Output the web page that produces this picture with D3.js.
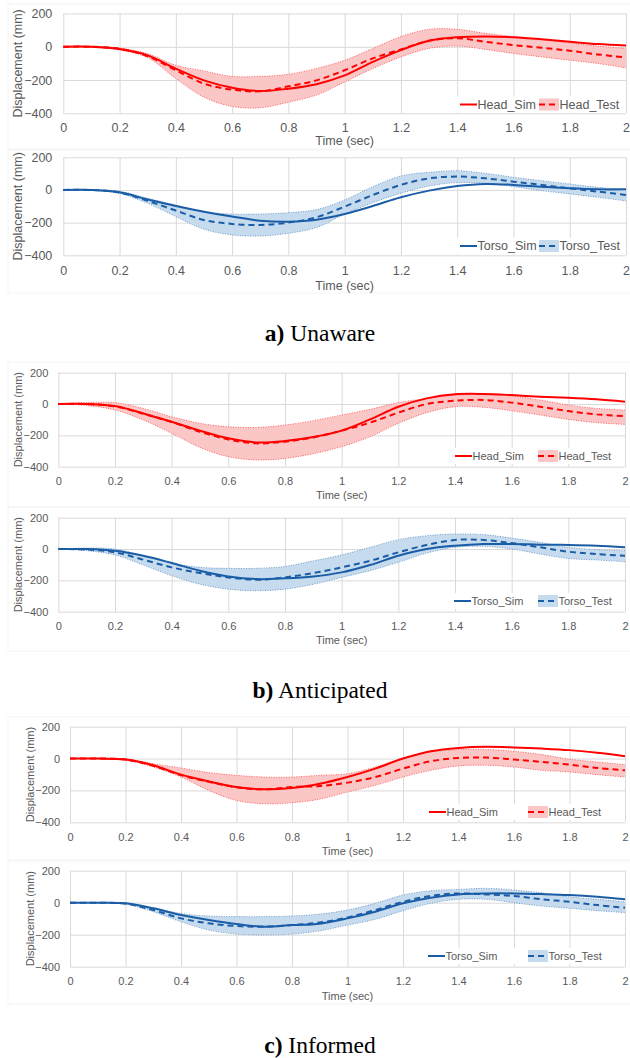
<!DOCTYPE html>
<html>
<head>
<meta charset="utf-8">
<script src="https://cdn.jsdelivr.net/npm/d3@7"></script>
<style>
  html, body { margin: 0; padding: 0; background: #fff; }
  svg { display: block; }
</style>
</head>
<body>
<script>
// Time samples (s)
const time = [0, 0.1, 0.2, 0.3, 0.4, 0.5, 0.6, 0.7, 0.8, 0.9, 1.0,
              1.1, 1.2, 1.3, 1.4, 1.5, 1.6, 1.7, 1.8, 1.9, 2.0];

const xTicks = [0, 0.2, 0.4, 0.6, 0.8, 1, 1.2, 1.4, 1.6, 1.8, 2];
const yTicks = [-400, -200, 0, 200];
const captions = [
  { bold: "a)", rest: " Unaware" },
  { bold: "b)", rest: " Anticipated" },
  { bold: "c)", rest: " Informed" }
];

// Unaware
const unawareHeadSim   = [0, 0, -14, -52, -131, -202, -246, -266, -252, -225, -172, -91, -20, 36, 57, 62, 57, 45, 30, 16, 8];
const unawareHeadTest  = [0, 0, -12, -57, -141, -222, -258, -268, -238, -202, -141, -70, -16, 36, 51, 30, 10, -6, -24, -46, -64];
const unawareHeadUpper = [0, 3, -8, -42, -111, -145, -178, -178, -165, -130, -81, -10, 61, 105, 105, 81, 61, 45, 24, 4, -10];
const unawareHeadLower = [0, -3, -20, -66, -191, -303, -359, -367, -333, -290, -212, -131, -61, -10, 4, -16, -40, -61, -81, -101, -127];

const unawareTorsoSim   = [0, 0, -14, -58, -98, -133, -163, -188, -194, -182, -147, -98, -45, -4, 24, 37, 31, 20, 10, 4, 4];
const unawareTorsoTest  = [0, 0, -16, -67, -126, -184, -208, -214, -200, -167, -102, -31, 31, 71, 82, 71, 51, 31, 10, -10, -31];
const unawareTorsoUpper = [0, 2, -8, -51, -92, -133, -147, -147, -139, -120, -61, 20, 86, 108, 118, 102, 78, 57, 37, 16, 4];
const unawareTorsoLower = [0, -2, -22, -82, -163, -241, -275, -282, -265, -230, -147, -78, -20, 24, 45, 41, 20, -4, -24, -45, -67];

// Anticipated
const anticipatedHeadSim   = [0, 0, -13, -60, -113, -170, -219, -245, -236, -211, -170, -98, -17, 36, 62, 64, 57, 47, 40, 30, 15];
const anticipatedHeadTest  = [0, 0, -15, -62, -115, -177, -226, -251, -240, -213, -170, -119, -55, 0, 21, 26, 9, -17, -45, -66, -77];
const anticipatedHeadUpper = [0, 9, 9, -28, -81, -123, -145, -149, -134, -106, -70, -34, 9, 36, 57, 62, 51, 26, -6, -28, -38];
const anticipatedHeadLower = [0, -9, -38, -102, -187, -277, -336, -357, -347, -317, -272, -209, -123, -55, -17, -21, -43, -70, -98, -119, -130];

const anticipatedTorsoSim   = [0, 0, -11, -43, -89, -138, -175, -192, -187, -175, -149, -102, -43, 0, 21, 32, 32, 28, 26, 21, 11];
const anticipatedTorsoTest  = [0, -3, -21, -68, -117, -153, -181, -196, -181, -153, -117, -75, -21, 26, 58, 58, 38, 11, -17, -32, -43];
const anticipatedTorsoUpper = [0, 6, 0, -43, -89, -117, -123, -123, -111, -75, -38, 11, 60, 85, 96, 92, 70, 43, 11, -4, -11];
const anticipatedTorsoLower = [0, -11, -38, -102, -170, -224, -256, -266, -256, -225, -181, -138, -85, -26, 11, 17, 0, -32, -60, -70, -81];

// Informed
const informedHeadSim   = [0, 0, -6, -42, -101, -143, -179, -193, -185, -158, -116, -63, 0, 46, 67, 74, 70, 63, 53, 36, 15];
const informedHeadTest  = [0, 0, -6, -45, -104, -146, -180, -193, -179, -172, -151, -116, -63, -17, 4, 6, -6, -21, -38, -59, -74];
const informedHeadUpper = [0, 2, -2, -32, -59, -88, -105, -116, -116, -105, -95, -53, 4, 42, 57, 57, 46, 25, -4, -21, -38];
const informedHeadLower = [0, -2, -10, -53, -116, -200, -263, -284, -277, -255, -210, -168, -116, -74, -46, -42, -53, -74, -84, -101, -116];

const informedTorsoSim   = [0, 0, -4, -35, -77, -108, -133, -150, -140, -131, -98, -56, -4, 31, 52, 58, 58, 54, 48, 37, 21];
const informedTorsoTest  = [0, 0, -6, -46, -98, -129, -146, -150, -140, -124, -92, -46, 6, 42, 58, 52, 42, 21, 6, -15, -31];
const informedTorsoUpper = [0, 2, -2, -31, -67, -83, -87, -87, -83, -71, -46, -4, 48, 75, 83, 90, 79, 62, 37, 21, 6];
const informedTorsoLower = [0, -2, -10, -56, -119, -171, -196, -202, -196, -176, -140, -104, -50, -4, 21, 21, 0, -21, -35, -50, -62];

const RED = "#ff0000", RED_FILL = "#fbc6c6";
const BLUE = "#1a5da6", BLUE_FILL = "#c6dbee";

// Panel layout (pixel geometry of each plot)
const panels = [
  { sim: unawareHeadSim, test: unawareHeadTest, up: unawareHeadUpper, lo: unawareHeadLower,
    name: "Head", color: RED, fill: RED_FILL,
    x0: 63.3, x1: 626, yT: 13.5, yB: 113.3, fs: 12.5, titleX: 18, tickGap: 11,
    xLabY: 128, timeY: 141, legY: 104.5, leg1: 460, leg2: 539, frame: [8, 4, 640, 149] },
  { sim: unawareTorsoSim, test: unawareTorsoTest, up: unawareTorsoUpper, lo: unawareTorsoLower,
    name: "Torso", color: BLUE, fill: BLUE_FILL,
    x0: 63.3, x1: 626, yT: 157.3, yB: 255.3, fs: 12.5, titleX: 18, tickGap: 11,
    xLabY: 271, timeY: 286, legY: 246, leg1: 460, leg2: 539, frame: [8, 150, 640, 293] },
  { sim: anticipatedHeadSim, test: anticipatedHeadTest, up: anticipatedHeadUpper, lo: anticipatedHeadLower,
    name: "Head", color: RED, fill: RED_FILL,
    x0: 58.3, x1: 625, yT: 372.7, yB: 466.7, fs: 11, titleX: 18, tickGap: 10,
    xLabY: 481, timeY: 495, legY: 456, leg1: 455, leg2: 538, frame: [8, 362, 640, 507] },
  { sim: anticipatedTorsoSim, test: anticipatedTorsoTest, up: anticipatedTorsoUpper, lo: anticipatedTorsoLower,
    name: "Torso", color: BLUE, fill: BLUE_FILL,
    x0: 58.3, x1: 625, yT: 517.7, yB: 611.7, fs: 11, titleX: 18, tickGap: 10,
    xLabY: 626, timeY: 640, legY: 601, leg1: 454, leg2: 538, frame: [8, 507, 640, 651] },
  { sim: informedHeadSim, test: informedHeadTest, up: informedHeadUpper, lo: informedHeadLower,
    name: "Head", color: RED, fill: RED_FILL,
    x0: 70, x1: 625, yT: 726.7, yB: 822.3, fs: 11, titleX: 30, tickGap: 10,
    xLabY: 837, timeY: 851, legY: 812, leg1: 429, leg2: 528, frame: [8, 717, 640, 860] },
  { sim: informedTorsoSim, test: informedTorsoTest, up: informedTorsoUpper, lo: informedTorsoLower,
    name: "Torso", color: BLUE, fill: BLUE_FILL,
    x0: 70, x1: 625, yT: 870.7, yB: 966.7, fs: 11, titleX: 30, tickGap: 10,
    xLabY: 981, timeY: 996, legY: 956, leg1: 428, leg2: 528, frame: [8, 861, 640, 1004] }
];

const captionY = [333, 690, 1045];

const W = 630, H = 1058;
const svg = d3.select("body").append("svg").attr("width", W).attr("height", H)
  .style("font-family", "Liberation Sans, Arial, sans-serif");

const TXT = "#595959", GRID = "#d9d9d9";

panels.forEach(p => {
  const g = svg.append("g");
  const x = d3.scaleLinear().domain([0, 2]).range([p.x0, p.x1]);
  const y = d3.scaleLinear().domain([-400, 200]).range([p.yB, p.yT]);

  // chart frame
  g.append("rect")
    .attr("x", p.frame[0]).attr("y", p.frame[1])
    .attr("width", p.frame[2] - p.frame[0]).attr("height", p.frame[3] - p.frame[1])
    .attr("fill", "none").attr("stroke", "#f4f4f4").attr("stroke-width", 1);

  // gridlines
  g.append("g").call(d3.axisLeft(y).tickValues(yTicks).tickSize(-(p.x1 - p.x0)).tickFormat(""))
    .attr("transform", `translate(${p.x0},0)`)
    .call(a => a.select(".domain").remove())
    .call(a => a.selectAll("line").attr("stroke", GRID).attr("stroke-width", 1));
  g.append("g").call(d3.axisBottom(x).tickValues(xTicks).tickSize(-(p.yB - p.yT)).tickFormat(""))
    .attr("transform", `translate(0,${p.yB})`)
    .call(a => a.select(".domain").remove())
    .call(a => a.selectAll("line").attr("stroke", GRID).attr("stroke-width", 1));

  // tick labels
  g.append("g").call(d3.axisLeft(y).tickValues(yTicks).tickSize(0).tickPadding(p.tickGap).tickFormat(d3.format("d")))
    .attr("transform", `translate(${p.x0},0)`)
    .call(a => a.select(".domain").remove())
    .call(a => a.selectAll("text").attr("fill", TXT).style("font-size", p.fs + "px").style("font-family", "Liberation Sans, Arial, sans-serif"));
  g.append("g").call(d3.axisBottom(x).tickValues(xTicks).tickSize(0).tickPadding(0).tickFormat(d => d3.format("")(d)))
    .attr("transform", `translate(0,${p.xLabY})`)
    .call(a => a.select(".domain").remove())
    .call(a => a.selectAll("text").attr("fill", TXT).attr("dy", "0.35em").attr("y", 0)
      .style("font-size", p.fs + "px").style("font-family", "Liberation Sans, Arial, sans-serif"));

  // axis titles
  g.append("text").attr("transform", `translate(${p.titleX},${(p.yT + p.yB) / 2}) rotate(-90)`)
    .attr("text-anchor", "middle").attr("dy", "0.35em").attr("fill", TXT)
    .style("font-size", p.fs + "px").text("Displacement (mm)");
  g.append("text").attr("x", (p.x0 + p.x1) / 2).attr("y", p.timeY)
    .attr("text-anchor", "middle").attr("dy", "0.35em").attr("fill", TXT)
    .style("font-size", p.fs + "px").text("Time (sec)");

  const rows = time.map((t, i) => ({ t, sim: p.sim[i], test: p.test[i], up: p.up[i], lo: p.lo[i] }));
  const curve = d3.curveCatmullRom.alpha(0.5);

  // test corridor
  g.append("path").datum(rows)
    .attr("d", d3.area().x(d => x(d.t)).y0(d => y(d.lo)).y1(d => y(d.up)).curve(curve))
    .attr("fill", p.fill).attr("stroke", "none");
  ["up", "lo"].forEach(k => {
    g.append("path").datum(rows)
      .attr("d", d3.line().x(d => x(d.t)).y(d => y(d[k])).curve(curve))
      .attr("fill", "none").attr("stroke", p.color).attr("stroke-width", 0.8)
      .attr("stroke-dasharray", "1,1.5").attr("opacity", 0.7);
  });

  // mean test curve (dashed) and simulation (solid)
  g.append("path").datum(rows)
    .attr("d", d3.line().x(d => x(d.t)).y(d => y(d.test)).curve(curve))
    .attr("fill", "none").attr("stroke", p.color).attr("stroke-width", 2)
    .attr("stroke-dasharray", "6,4");
  g.append("path").datum(rows)
    .attr("d", d3.line().x(d => x(d.t)).y(d => y(d.sim)).curve(curve))
    .attr("fill", "none").attr("stroke", p.color).attr("stroke-width", 2);

  // legend
  const lg = g.append("g");
  lg.append("rect").attr("x", p.leg1 - 4).attr("y", p.legY - 8)
    .attr("width", p.x1 - p.leg1 + 3).attr("height", 16).attr("fill", "#fff");
  lg.append("line").attr("x1", p.leg1).attr("x2", p.leg1 + 17).attr("y1", p.legY).attr("y2", p.legY)
    .attr("stroke", p.color).attr("stroke-width", 2);
  lg.append("text").attr("x", p.leg1 + 17.5).attr("y", p.legY).attr("dy", "0.35em")
    .attr("fill", TXT).style("font-size", p.fs + "px").text(p.name + "_Sim");
  lg.append("rect").attr("x", p.leg2).attr("y", p.legY - 6).attr("width", 20).attr("height", 12)
    .attr("fill", p.fill);
  lg.append("line").attr("x1", p.leg2).attr("x2", p.leg2 + 20).attr("y1", p.legY).attr("y2", p.legY)
    .attr("stroke", p.color).attr("stroke-width", 2).attr("stroke-dasharray", "6,4");
  lg.append("text").attr("x", p.leg2 + 20.5).attr("y", p.legY).attr("dy", "0.35em")
    .attr("fill", TXT).style("font-size", p.fs + "px").text(p.name + "_Test");
});

// captions under each pair of plots
captions.forEach((c, i) => {
  const t = svg.append("text").attr("x", 320).attr("y", captionY[i]).attr("dy", "0.35em")
    .attr("text-anchor", "middle").attr("fill", "#000")
    .style("font-family", "Liberation Serif, Times New Roman, serif").style("font-size", "23.5px");
  t.append("tspan").style("font-weight", "bold").text(c.bold);
  t.append("tspan").text(c.rest);
});
</script>
</body>
</html>
